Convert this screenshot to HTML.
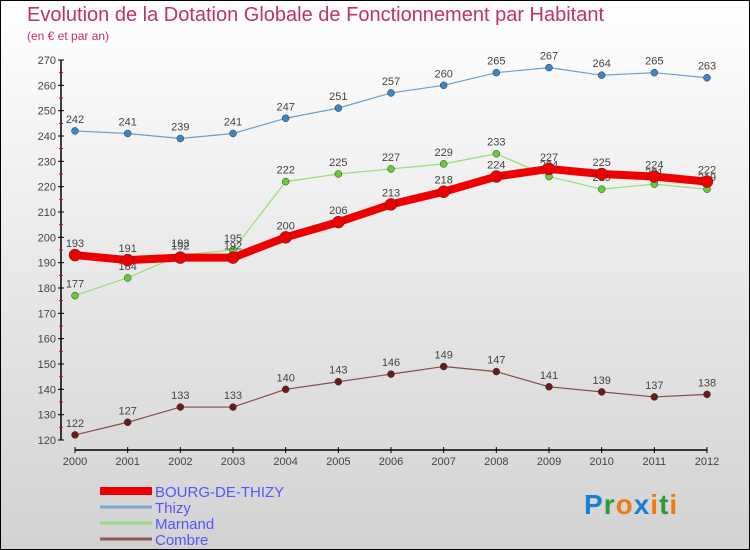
<!DOCTYPE html>
<html><head><meta charset="utf-8"><style>
html,body{margin:0;padding:0}
body{width:750px;height:550px;overflow:hidden;font-family:"Liberation Sans",sans-serif}
#wrap{position:relative;width:748px;height:548px;border:1px solid #000;background:linear-gradient(#ffffff,#d2d2d2)}
.t{position:absolute;white-space:nowrap}
</style></head><body>
<div id="wrap">
<div class="t" style="left:26px;top:3px;font-size:20px;color:#c0306a">Evolution de la Dotation Globale de Fonctionnement par Habitant</div>
<div class="t" style="left:26px;top:28px;font-size:12px;color:#c0306a">(en € et par an)</div>
<svg id="chart" width="750" height="550" style="position:absolute;left:-1px;top:-1px"></svg>
<div class="t" style="left:583px;top:488px;font-size:28px;font-weight:bold;letter-spacing:1px"><span style="color:#1a7fd0">P</span><span style="color:#2a9a3a">r</span><span style="color:#f07a10">o</span><span style="color:#1a7fd0">x</span><span style="color:#f07a10">i</span><span style="color:#2a9a3a">t</span><span style="color:#f07a10">i</span></div>
</div>
<script>
const years=[2000,2001,2002,2003,2004,2005,2006,2007,2008,2009,2010,2011,2012];
const yTicks=[120,130,140,150,160,170,180,190,200,210,220,230,240,250,260,270];
const bourg=[193,191,192,192,200,206,213,218,224,227,225,224,222];
const thizy=[242,241,239,241,247,251,257,260,265,267,264,265,263];
const marnand=[177,184,193,195,222,225,227,229,233,224,219,221,219];
const combre=[122,127,133,133,140,143,146,149,147,141,139,137,138];
const names=["BOURG-DE-THIZY","Thizy","Marnand","Combre"];
const svg=document.getElementById('chart');
const NS='http://www.w3.org/2000/svg';
const X=i=>75+i*(632/12);
const Y=v=>440-(v-120)*(380/150);
function mk(t,a,p){const e=document.createElementNS(NS,t);for(const k in a)e.setAttribute(k,a[k]);(p||svg).appendChild(e);return e;}
// axes
const ax=mk('line',{x1:61,y1:Y(270),x2:61,y2:Y(120),stroke:'#000','stroke-width':1.5});


const bx=mk('line',{x1:75,y1:450,x2:707,y2:450,stroke:'#000','stroke-width':1.5});


yTicks.forEach(v=>{
  mk('line',{x1:58,y1:Y(v),x2:64,y2:Y(v),stroke:'#000'});
  if(v<270)mk('line',{x1:59,y1:Y(v+5),x2:63,y2:Y(v+5),stroke:'#e00'});
  const t=mk('text',{x:56,y:Y(v)+4,'text-anchor':'end','font-size':11,fill:'#444'});
  t.textContent=v;
  
  
});
years.forEach((yr,i)=>{
  mk('line',{x1:X(i),y1:447,x2:X(i),y2:453,stroke:'#000'});
  const t=mk('text',{x:X(i),y:465,'text-anchor':'middle','font-size':11,fill:'#444'});
  t.textContent=yr;
  
  
});
function series(vals,color,dot,w,r,name){
  const g=mk('g',{});
  
  
  mk('polyline',{points:vals.map((v,i)=>X(i)+','+Y(v)).join(' '),fill:'none',stroke:color,'stroke-width':w,'stroke-linejoin':'round'},g);
  vals.forEach((v,i)=>{
    const c=mk('circle',{cx:X(i),cy:Y(v),r:r,fill:dot,stroke:'#333','stroke-width':0.5},g);
    
    
    const t=mk('text',{x:X(i),y:Y(v)-8,'text-anchor':'middle','font-size':11,fill:'#444'},g);
    t.textContent=v;
    
    
  });
}
series(combre,'#8a4a4a','#6a1a1a',1.2,3.5,'combre');
series(marnand,'#99dd77','#66cc33',1.2,3.5,'marnand');
series(thizy,'#6aa0cc','#3a86c8',1.2,3.5,'thizy');
series(bourg,'#ee0000','#ee0000',8,6,'bourg');
// legend
const lc=['#ee0000','#7fa8cc','#99d97a','#8a5a5a'];const lw=[8,3,3,3];
names.forEach((n,i)=>{
  const y=491+i*16;
  const l=mk('line',{x1:100,y1:y,x2:152,y2:y,stroke:lc[i],'stroke-width':lw[i]});
  
  
  const t=mk('text',{x:155,y:y+6,'font-size':15,fill:'#5555ff'});
  t.textContent=n;
  
  
});
</script>
</body></html>
